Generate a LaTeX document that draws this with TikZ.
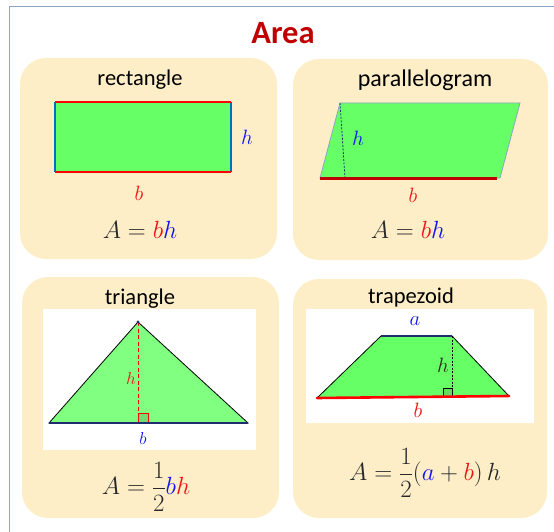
\documentclass[tikz,border=0pt]{standalone}
\usepackage{fontspec}
\setmainfont{Carlito}
\usetikzlibrary{calc}
\definecolor{panel}{RGB}{253,238,200}
\definecolor{framec}{RGB}{140,165,195}
\definecolor{titlered}{RGB}{192,0,0}
\definecolor{gfill}{RGB}{102,255,102}
\definecolor{gfill2}{RGB}{128,255,128}
\definecolor{lred}{RGB}{240,20,20}
\definecolor{lblue}{RGB}{20,20,240}
\definecolor{eblue}{RGB}{0,112,192}
\definecolor{navy}{RGB}{31,45,110}
\definecolor{darkred}{RGB}{192,0,0}
\definecolor{fgray}{RGB}{40,40,40}
\tikzset{
  panelbox/.style={fill=panel,draw=none,rounded corners=26pt},
  caption/.style={font=\fontsize{22.5}{24}\selectfont,text=black,inner sep=0pt},
  varlbl/.style={font=\fontsize{21}{23}\selectfont,inner sep=0pt},
  formula/.style={font=\fontsize{23}{25}\selectfont,text=fgray,inner sep=0pt},
  whitebox/.style={fill=white,draw=none},
}
\begin{document}
\begin{tikzpicture}[x=1pt,y=-1pt]
\useasboundingbox (0,0) rectangle (554,532);
% frame
\draw[framec,line width=1pt] (9,532) -- (9,7) -- (554,7);
% title
\node[font=\bfseries\fontsize{32.5}{34}\selectfont,text=titlered,inner sep=0pt] (title) at (283,33) {Area};
% panels
\fill[panelbox] (20,58) rectangle (277,259);
\fill[panelbox] (293,59) rectangle (548,260);
\fill[panelbox] (22,277) rectangle (279,518);
\fill[panelbox] (293,279) rectangle (547,518);

% ---------- rectangle ----------
\node[caption] (capR) at (140,80) {rectangle};
\coordinate (r1) at (55,102);
\coordinate (r2) at (231,102);
\coordinate (r3) at (231,172);
\coordinate (r4) at (55,172);
\fill[gfill] (r1) rectangle (r3);
\draw[eblue,line width=2.6pt] (r1) -- (r4);
\draw[eblue,line width=2.6pt] (r2) -- (r3);
\draw[red,line width=2.6pt] (r1) -- (r2);
\draw[red,line width=2.6pt] (r4) -- (r3);
\node[varlbl,text=lblue] (hR) at (247,137) {$h$};
\node[varlbl,text=lred] (bR) at (139,193) {$b$};
\node[formula] (fR) at (140,230) {$A=\textcolor{lred}{b}\textcolor{lblue}{h}$};

% ---------- parallelogram ----------
\node[caption,font=\fontsize{24}{26}\selectfont] (capP) at (425,80) {parallelogram};
\coordinate (p1) at (340,103);
\coordinate (p2) at (520,103);
\coordinate (p3) at (500,178);
\coordinate (p4) at (320,178);
\coordinate (pf) at (345,178);
\fill[gfill,draw=framec,line width=0.8pt] (p1) -- (p2) -- (p3) -- (p4) -- cycle;
\draw[navy,dashed,line width=0.8pt,dash pattern=on 2pt off 1.5pt] (p1) -- (pf);
\draw[darkred,line width=3pt] (p4) -- ($(p3)+(-3,0)$);
\node[varlbl,text=lblue] (hP) at (358,138) {$h$};
\node[varlbl,text=lred] (bP) at (413,195) {$b$};
\node[formula] (fP) at (408,230) {$A=\textcolor{lred}{b}\textcolor{lblue}{h}$};

% ---------- triangle ----------
\node[caption] (capT) at (140,299) {triangle};
\fill[whitebox] (43,309) rectangle (256,450);
\coordinate (t1) at (138,322);
\coordinate (t2) at (49,423);
\coordinate (t3) at (248,423);
\coordinate (tf) at (138,423);
\fill[gfill2,draw=black,line width=0.8pt] (t1) -- (t3) -- (t2) -- cycle;
\fill[green!55!black!60,opacity=0.5] (tf) rectangle (148,413);
\draw[red,line width=0.6pt] (tf) rectangle (148,413);
\draw[red,dashed,line width=1pt,dash pattern=on 4pt off 2.5pt] (t1) -- (tf);
\draw[navy,line width=2.2pt] (t2) -- (t3);
\fill[navy] (t1) circle (1.6pt);
\node[varlbl,text=lred,font=\fontsize{18}{20}\selectfont] (hT) at (131,378) {$h$};
\node[varlbl,text=lblue,font=\fontsize{16}{18}\selectfont] (bT) at (143,438) {$b$};
\node[formula,font=\fontsize{24}{26}\selectfont] (fT) at (146,487) {$\displaystyle A=\frac{1}{2}\textcolor{lblue}{b}\textcolor{lred}{h}$};

% ---------- trapezoid ----------
\node[caption] (capZ) at (411,297) {trapezoid};
\fill[whitebox] (306,309) rectangle (534,423);
\coordinate (z1) at (381,336);
\coordinate (z2) at (452,336);
\coordinate (z3) at (509,396);
\coordinate (z4) at (317,398);
\coordinate (zf) at (452,396.5);
\fill[gfill,draw=black,line width=0.8pt] (z1) -- (z2) -- (z3) -- (z4) -- cycle;
\fill[green!55!black!60,opacity=0.5] (443,388) rectangle (zf);
\draw[black,line width=0.6pt] (443,388) rectangle (zf);
\draw[black,dashed,line width=0.8pt,dash pattern=on 2pt off 1.5pt] (z2) -- (zf);
\draw[navy,line width=2.4pt] (z1) -- (z2);
\draw[red,line width=2.6pt,line cap=round] (z4) -- (z3);
\node[varlbl,text=lblue] (aZ) at (415,321) {$a$};
\node[varlbl,text=fgray] (hZ) at (443,365) {$h$};
\node[varlbl,text=lred] (bZ) at (418,410) {$b$};
\node[formula,font=\fontsize{23}{25}\selectfont] (fZ) at (425,473) {$\displaystyle A=\frac{1}{2}\bigl(\textcolor{lblue}{a}+\textcolor{lred}{b}\bigr)\,h$};
\end{tikzpicture}
\end{document}
